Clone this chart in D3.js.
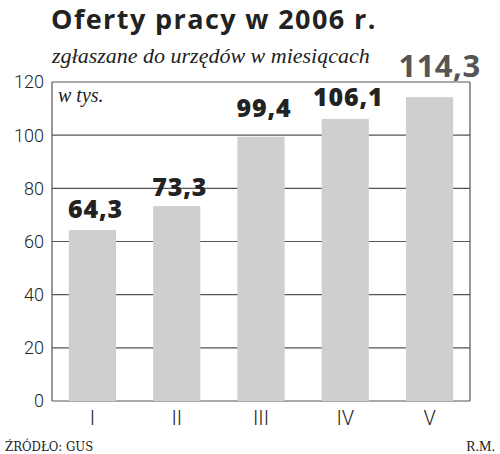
<!DOCTYPE html>
<html>
<head>
<meta charset="utf-8">
<script src="https://cdn.jsdelivr.net/npm/d3@7/dist/d3.min.js"></script>
<style>
  body { margin: 0; background: #fff; }
  svg { display: block; }
</style>
</head>
<body>
<svg id="chart" width="500" height="454"></svg>
<script>
// dane: oferty pracy (tys.)
var months = ["I", "II", "III", "IV", "V"];
var offers = [64.3, 73.3, 99.4, 106.1, 114.3];
var yTicks = [0, 20, 40, 60, 80, 100, 120];

var svg = d3.select("#chart");
var plotLeft = 52, plotRight = 470, plotTop = 82, plotBottom = 401;

var x = d3.scaleBand()
    .domain(months)
    .range([plotLeft, plotRight])
    .paddingInner(0.44)
    .paddingOuter(0.2);

var y = d3.scaleLinear()
    .domain([0, 120])
    .range([plotBottom, plotTop]);

function fmt(v) {
    return v.toFixed(1).replace(".", ",");
}

// title
svg.append("text")
    .attr("x", 51).attr("y", 29)
    .style("font-family", "'Open Sans', sans-serif")
    .style("font-weight", 700)
    .style("font-size", "27px")
    .style("letter-spacing", "1.4px")
    .style("fill", "#222")
    .text("Oferty pracy w 2006 r.");

svg.append("text")
    .attr("x", 52).attr("y", 63)
    .style("font-family", "'Liberation Serif', serif")
    .style("font-style", "italic")
    .style("font-size", "22px")
    .style("fill", "#222")
    .text("zgłaszane do urzędów w miesiącach");

// grid lines
svg.append("g")
    .selectAll("line")
    .data(yTicks)
    .enter().append("line")
    .attr("x1", plotLeft).attr("x2", plotRight)
    .attr("y1", function (d) { return y(d); })
    .attr("y2", function (d) { return y(d); })
    .style("stroke", "#555")
    .style("stroke-width", 1.2);

// frame sides
svg.append("line")
    .attr("x1", plotLeft).attr("x2", plotLeft)
    .attr("y1", y(120)).attr("y2", y(0))
    .style("stroke", "#555").style("stroke-width", 1.2);
svg.append("line")
    .attr("x1", plotRight).attr("x2", plotRight)
    .attr("y1", y(120)).attr("y2", y(0))
    .style("stroke", "#555").style("stroke-width", 1.2);

// y axis labels
svg.append("g")
    .selectAll("text")
    .data(yTicks)
    .enter().append("text")
    .attr("x", 44)
    .attr("y", function (d) { return y(d); })
    .attr("dy", "0.36em")
    .attr("text-anchor", "end")
    .style("font-family", "Roboto, sans-serif")
    .style("font-weight", 300)
    .style("font-size", "18px")
    .style("fill", "#222")
    .text(function (d) { return d; });

svg.append("text")
    .attr("x", 58).attr("y", 102)
    .style("font-family", "'Liberation Serif', serif")
    .style("font-style", "italic")
    .style("font-size", "20px")
    .style("fill", "#222")
    .text("w tys.");

// bars
svg.append("g")
    .selectAll("rect")
    .data(offers)
    .enter().append("rect")
    .attr("x", function (d, i) { return x(months[i]); })
    .attr("width", x.bandwidth())
    .attr("y", function (d) { return y(d); })
    .attr("height", function (d) { return y(0) - y(d); })
    .style("fill", "#cfcfcf");

// value labels
var labelGap = [12, 10, 20, 13, 20];
var last = offers.length - 1;
svg.append("g")
    .selectAll("text")
    .data(offers)
    .enter().append("text")
    .attr("x", function (d, i) { return x(months[i]) + x.bandwidth() / 2 + (i == last ? 10 : 3); })
    .attr("y", function (d, i) { return y(d) - labelGap[i]; })
    .attr("text-anchor", "middle")
    .style("font-family", "'Open Sans', sans-serif")
    .style("font-weight", function (d, i) { return i == last ? 700 : 800; })
    .style("font-size", function (d, i) { return i == last ? "31px" : "25px"; })
    .style("letter-spacing", function (d, i) { return i == last ? "0.5px" : "0.8px"; })
    .style("fill", function (d, i) { return i == last ? "#555" : "#222"; })
    .text(function (d) { return fmt(d); });

// x labels
svg.append("g")
    .selectAll("text")
    .data(months)
    .enter().append("text")
    .attr("x", function (d) { return x(d) + x.bandwidth() / 2; })
    .attr("y", 425)
    .attr("text-anchor", "middle")
    .style("font-family", "Roboto, sans-serif")
    .style("font-weight", 300)
    .style("font-size", "20px")
    .style("fill", "#222")
    .text(function (d) { return d; });

// footer
svg.append("text")
    .attr("x", 5).attr("y", 451)
    .style("font-family", "'DejaVu Serif Condensed', 'DejaVu Serif', serif")
    .style("font-stretch", "condensed")
    .style("font-size", "13px")
    .style("fill", "#222")
    .text("ŹRÓDŁO: GUS");

svg.append("text")
    .attr("x", 495).attr("y", 451)
    .attr("text-anchor", "end")
    .style("font-family", "'Liberation Serif', serif")
    .style("font-size", "14px")
    .style("fill", "#222")
    .text("R.M.");
</script>
</body>
</html>
